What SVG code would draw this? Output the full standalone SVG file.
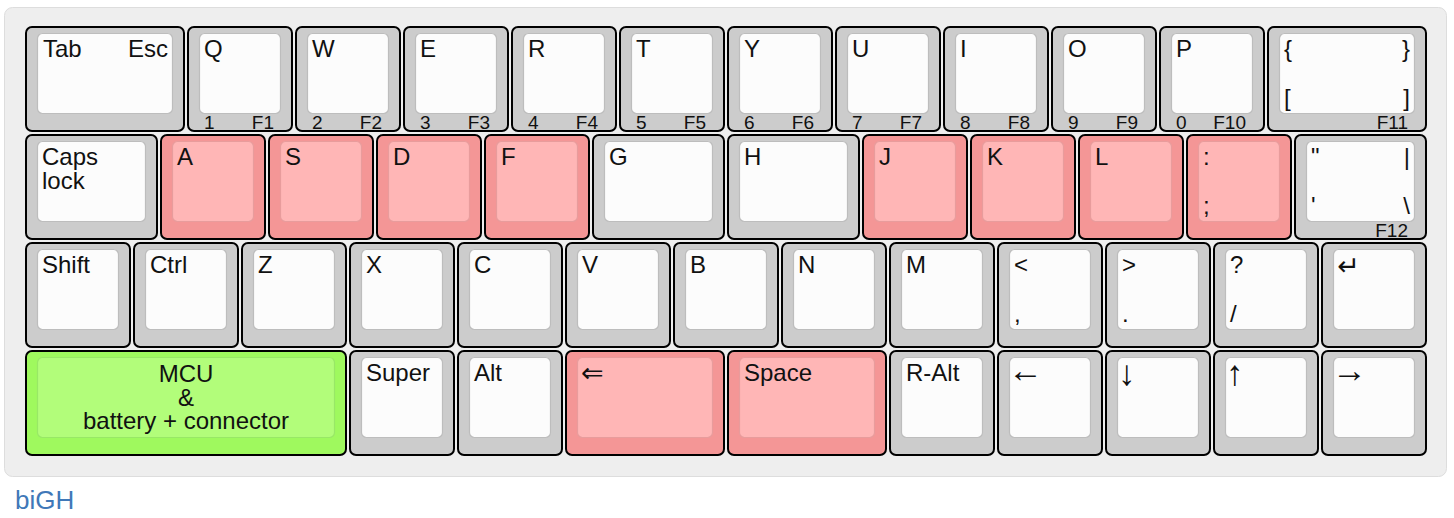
<svg xmlns="http://www.w3.org/2000/svg" width="1454" height="518" viewBox="0 0 1454 518">
<style>
text{font-family:"Liberation Sans",Arial,"DejaVu Sans",sans-serif;fill:#111;}
.l{font-size:24px;}
.f{font-size:19px;}
.a{font-family:"DejaVu Sans",sans-serif;font-size:27px;}
.r{font-family:"Liberation Sans",Arial,sans-serif;font-size:35px;}
.e{text-anchor:end;}
.c{text-anchor:middle;}
.o{stroke:#000;stroke-width:2;}
.i{stroke-width:1.2;}
.gw .o{fill:#cccccc;}
.gw .i{fill:#fcfcfc;stroke:#bdbdbd;}
.gp .o{fill:#f49696;}
.gp .i{fill:#ffb6b6;stroke:#e89c9c;}
.gg .o{fill:#9ff95e;}
.gg .i{fill:#b2fd7a;stroke:#98e866;}
</style>
<rect id="board" x="4.5" y="7.5" width="1442" height="469" rx="8" fill="#eeeeee" stroke="#dddddd"/>

<!-- Row 1 -->
<g id="k-tab" class="gw"><rect class="o" x="26" y="27" width="158" height="104" rx="6"/><rect class="i" x="37.5" y="33.5" width="135" height="80" rx="5"/><text class="l" x="43" y="57">Tab</text><text class="l e" x="168" y="57">Esc</text></g>
<g id="k-q" class="gw"><rect class="o" x="188" y="27" width="104" height="104" rx="6"/><rect class="i" x="199.5" y="33.5" width="81" height="80" rx="5"/><text class="l" x="204" y="57">Q</text><text class="f" x="204" y="129">1</text><text class="f e" x="274" y="129">F1</text></g>
<g id="k-w" class="gw"><rect class="o" x="296" y="27" width="104" height="104" rx="6"/><rect class="i" x="307.5" y="33.5" width="81" height="80" rx="5"/><text class="l" x="312" y="57">W</text><text class="f" x="312" y="129">2</text><text class="f e" x="382" y="129">F2</text></g>
<g id="k-e" class="gw"><rect class="o" x="404" y="27" width="104" height="104" rx="6"/><rect class="i" x="415.5" y="33.5" width="81" height="80" rx="5"/><text class="l" x="420" y="57">E</text><text class="f" x="420" y="129">3</text><text class="f e" x="490" y="129">F3</text></g>
<g id="k-r" class="gw"><rect class="o" x="512" y="27" width="104" height="104" rx="6"/><rect class="i" x="523.5" y="33.5" width="81" height="80" rx="5"/><text class="l" x="528" y="57">R</text><text class="f" x="528" y="129">4</text><text class="f e" x="598" y="129">F4</text></g>
<g id="k-t" class="gw"><rect class="o" x="620" y="27" width="104" height="104" rx="6"/><rect class="i" x="631.5" y="33.5" width="81" height="80" rx="5"/><text class="l" x="636" y="57">T</text><text class="f" x="636" y="129">5</text><text class="f e" x="706" y="129">F5</text></g>
<g id="k-y" class="gw"><rect class="o" x="728" y="27" width="104" height="104" rx="6"/><rect class="i" x="739.5" y="33.5" width="81" height="80" rx="5"/><text class="l" x="744" y="57">Y</text><text class="f" x="744" y="129">6</text><text class="f e" x="814" y="129">F6</text></g>
<g id="k-u" class="gw"><rect class="o" x="836" y="27" width="104" height="104" rx="6"/><rect class="i" x="847.5" y="33.5" width="81" height="80" rx="5"/><text class="l" x="852" y="57">U</text><text class="f" x="852" y="129">7</text><text class="f e" x="922" y="129">F7</text></g>
<g id="k-i" class="gw"><rect class="o" x="944" y="27" width="104" height="104" rx="6"/><rect class="i" x="955.5" y="33.5" width="81" height="80" rx="5"/><text class="l" x="960" y="57">I</text><text class="f" x="960" y="129">8</text><text class="f e" x="1030" y="129">F8</text></g>
<g id="k-o" class="gw"><rect class="o" x="1052" y="27" width="104" height="104" rx="6"/><rect class="i" x="1063.5" y="33.5" width="81" height="80" rx="5"/><text class="l" x="1068" y="57">O</text><text class="f" x="1068" y="129">9</text><text class="f e" x="1138" y="129">F9</text></g>
<g id="k-p" class="gw"><rect class="o" x="1160" y="27" width="104" height="104" rx="6"/><rect class="i" x="1171.5" y="33.5" width="81" height="80" rx="5"/><text class="l" x="1176" y="57">P</text><text class="f" x="1176" y="129">0</text><text class="f e" x="1246" y="129">F10</text></g>
<g id="k-brace" class="gw"><rect class="o" x="1268" y="27" width="158" height="104" rx="6"/><rect class="i" x="1279.5" y="33.5" width="135" height="80" rx="5"/><text class="l" x="1284" y="57">{</text><text class="l e" x="1410" y="57">}</text><text class="l" x="1284" y="106">[</text><text class="l e" x="1410" y="106">]</text><text class="f e" x="1408" y="129">F11</text></g>

<!-- Row 2 -->
<g id="k-caps" class="gw"><rect class="o" x="26" y="135" width="131" height="104" rx="6"/><rect class="i" x="37.5" y="141.5" width="108" height="80" rx="5"/><text class="l" x="42" y="165">Caps</text><text class="l" x="42" y="189">lock</text></g>
<g id="k-a" class="gp"><rect class="o" x="161" y="135" width="104" height="104" rx="6"/><rect class="i" x="172.5" y="141.5" width="81" height="80" rx="5"/><text class="l" x="177" y="165">A</text></g>
<g id="k-s" class="gp"><rect class="o" x="269" y="135" width="104" height="104" rx="6"/><rect class="i" x="280.5" y="141.5" width="81" height="80" rx="5"/><text class="l" x="285" y="165">S</text></g>
<g id="k-d" class="gp"><rect class="o" x="377" y="135" width="104" height="104" rx="6"/><rect class="i" x="388.5" y="141.5" width="81" height="80" rx="5"/><text class="l" x="393" y="165">D</text></g>
<g id="k-f" class="gp"><rect class="o" x="485" y="135" width="104" height="104" rx="6"/><rect class="i" x="496.5" y="141.5" width="81" height="80" rx="5"/><text class="l" x="501" y="165">F</text></g>
<g id="k-g" class="gw"><rect class="o" x="593" y="135" width="131" height="104" rx="6"/><rect class="i" x="604.5" y="141.5" width="108" height="80" rx="5"/><text class="l" x="609" y="165">G</text></g>
<g id="k-h" class="gw"><rect class="o" x="728" y="135" width="131" height="104" rx="6"/><rect class="i" x="739.5" y="141.5" width="108" height="80" rx="5"/><text class="l" x="744" y="165">H</text></g>
<g id="k-j" class="gp"><rect class="o" x="863" y="135" width="104" height="104" rx="6"/><rect class="i" x="874.5" y="141.5" width="81" height="80" rx="5"/><text class="l" x="879" y="165">J</text></g>
<g id="k-k" class="gp"><rect class="o" x="971" y="135" width="104" height="104" rx="6"/><rect class="i" x="982.5" y="141.5" width="81" height="80" rx="5"/><text class="l" x="987" y="165">K</text></g>
<g id="k-l" class="gp"><rect class="o" x="1079" y="135" width="104" height="104" rx="6"/><rect class="i" x="1090.5" y="141.5" width="81" height="80" rx="5"/><text class="l" x="1095" y="165">L</text></g>
<g id="k-colon" class="gp"><rect class="o" x="1187" y="135" width="104" height="104" rx="6"/><rect class="i" x="1198.5" y="141.5" width="81" height="80" rx="5"/><text class="l" x="1203" y="165">:</text><text class="l" x="1203" y="214">;</text></g>
<g id="k-quote" class="gw"><rect class="o" x="1295" y="135" width="131" height="104" rx="6"/><rect class="i" x="1306.5" y="141.5" width="108" height="80" rx="5"/><text class="l" x="1311" y="165">"</text><text class="l e" x="1410" y="165">|</text><text class="l" x="1311" y="214">'</text><text class="l e" x="1410" y="214">\</text><text class="f e" x="1408" y="237">F12</text></g>

<!-- Row 3 -->
<g id="k-shift" class="gw"><rect class="o" x="26" y="243" width="104" height="104" rx="6"/><rect class="i" x="37.5" y="249.5" width="81" height="80" rx="5"/><text class="l" x="42" y="273">Shift</text></g>
<g id="k-ctrl" class="gw"><rect class="o" x="134" y="243" width="104" height="104" rx="6"/><rect class="i" x="145.5" y="249.5" width="81" height="80" rx="5"/><text class="l" x="150" y="273">Ctrl</text></g>
<g id="k-z" class="gw"><rect class="o" x="242" y="243" width="104" height="104" rx="6"/><rect class="i" x="253.5" y="249.5" width="81" height="80" rx="5"/><text class="l" x="258" y="273">Z</text></g>
<g id="k-x" class="gw"><rect class="o" x="350" y="243" width="104" height="104" rx="6"/><rect class="i" x="361.5" y="249.5" width="81" height="80" rx="5"/><text class="l" x="366" y="273">X</text></g>
<g id="k-c" class="gw"><rect class="o" x="458" y="243" width="104" height="104" rx="6"/><rect class="i" x="469.5" y="249.5" width="81" height="80" rx="5"/><text class="l" x="474" y="273">C</text></g>
<g id="k-v" class="gw"><rect class="o" x="566" y="243" width="104" height="104" rx="6"/><rect class="i" x="577.5" y="249.5" width="81" height="80" rx="5"/><text class="l" x="582" y="273">V</text></g>
<g id="k-b" class="gw"><rect class="o" x="674" y="243" width="104" height="104" rx="6"/><rect class="i" x="685.5" y="249.5" width="81" height="80" rx="5"/><text class="l" x="690" y="273">B</text></g>
<g id="k-n" class="gw"><rect class="o" x="782" y="243" width="104" height="104" rx="6"/><rect class="i" x="793.5" y="249.5" width="81" height="80" rx="5"/><text class="l" x="798" y="273">N</text></g>
<g id="k-m" class="gw"><rect class="o" x="890" y="243" width="104" height="104" rx="6"/><rect class="i" x="901.5" y="249.5" width="81" height="80" rx="5"/><text class="l" x="906" y="273">M</text></g>
<g id="k-comma" class="gw"><rect class="o" x="998" y="243" width="104" height="104" rx="6"/><rect class="i" x="1009.5" y="249.5" width="81" height="80" rx="5"/><text class="l" x="1014" y="273">&lt;</text><text class="l" x="1014" y="322">,</text></g>
<g id="k-period" class="gw"><rect class="o" x="1106" y="243" width="104" height="104" rx="6"/><rect class="i" x="1117.5" y="249.5" width="81" height="80" rx="5"/><text class="l" x="1122" y="273">&gt;</text><text class="l" x="1122" y="322">.</text></g>
<g id="k-slash" class="gw"><rect class="o" x="1214" y="243" width="104" height="104" rx="6"/><rect class="i" x="1225.5" y="249.5" width="81" height="80" rx="5"/><text class="l" x="1230" y="273">?</text><text class="l" x="1230" y="322">/</text></g>
<g id="k-enter" class="gw"><rect class="o" x="1322" y="243" width="104" height="104" rx="6"/><rect class="i" x="1333.5" y="249.5" width="81" height="80" rx="5"/><text class="a" x="1337" y="275">↵</text></g>

<!-- Row 4 -->
<g id="k-mcu" class="gg"><rect class="o" x="26" y="351" width="320" height="104" rx="6"/><rect class="i" x="37.5" y="357.5" width="297" height="80" rx="5"/><text class="l c" x="186" y="382">MCU</text><text class="l c" x="186" y="405.5">&amp;</text><text class="l c" x="186" y="429">battery + connector</text></g>
<g id="k-super" class="gw"><rect class="o" x="350" y="351" width="104" height="104" rx="6"/><rect class="i" x="361.5" y="357.5" width="81" height="80" rx="5"/><text class="l" x="366" y="381">Super</text></g>
<g id="k-alt" class="gw"><rect class="o" x="458" y="351" width="104" height="104" rx="6"/><rect class="i" x="469.5" y="357.5" width="81" height="80" rx="5"/><text class="l" x="474" y="381">Alt</text></g>
<g id="k-bksp" class="gp"><rect class="o" x="566" y="351" width="158" height="104" rx="6"/><rect class="i" x="577.5" y="357.5" width="135" height="80" rx="5"/><text class="a" x="581" y="382">⇐</text></g>
<g id="k-space" class="gp"><rect class="o" x="728" y="351" width="158" height="104" rx="6"/><rect class="i" x="739.5" y="357.5" width="135" height="80" rx="5"/><text class="l" x="744" y="381">Space</text></g>
<g id="k-ralt" class="gw"><rect class="o" x="890" y="351" width="104" height="104" rx="6"/><rect class="i" x="901.5" y="357.5" width="81" height="80" rx="5"/><text class="l" x="906" y="381">R-Alt</text></g>
<g id="k-left" class="gw"><rect class="o" x="998" y="351" width="104" height="104" rx="6"/><rect class="i" x="1009.5" y="357.5" width="81" height="80" rx="5"/><text class="r" x="1008" y="382">←</text></g>
<g id="k-down" class="gw"><rect class="o" x="1106" y="351" width="104" height="104" rx="6"/><rect class="i" x="1117.5" y="357.5" width="81" height="80" rx="5"/><text class="r" x="1118" y="385">↓</text></g>
<g id="k-up" class="gw"><rect class="o" x="1214" y="351" width="104" height="104" rx="6"/><rect class="i" x="1225.5" y="357.5" width="81" height="80" rx="5"/><text class="r" x="1226" y="385">↑</text></g>
<g id="k-right" class="gw"><rect class="o" x="1322" y="351" width="104" height="104" rx="6"/><rect class="i" x="1333.5" y="357.5" width="81" height="80" rx="5"/><text class="r" x="1332" y="382">→</text></g>

<text id="title" x="15" y="509" style="font-size:26px;fill:#4078b8;">biGH</text>
</svg>
